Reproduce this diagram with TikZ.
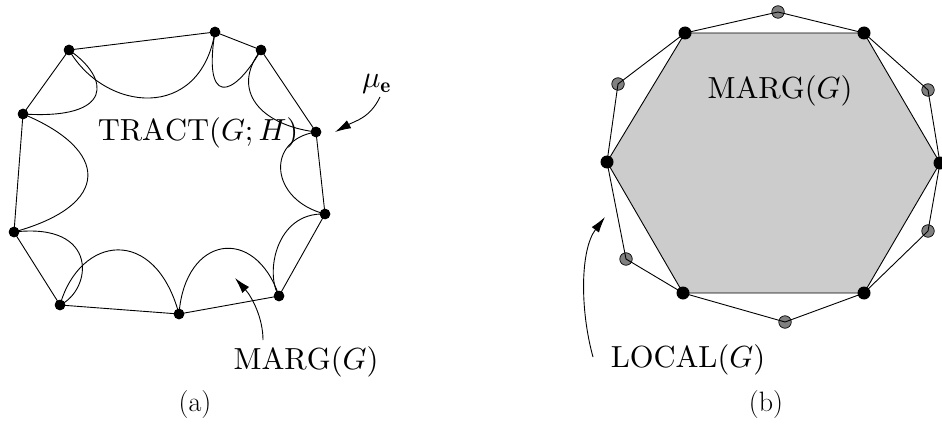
\documentclass[tikz,border=0pt]{standalone}
\usepackage{graphicx}
\usepackage{fontspec}
\usetikzlibrary{arrows.meta}
\definecolor{hexfill}{RGB}{204,204,204}
\definecolor{dotgrey}{RGB}{128,128,128}
\newcommand{\bigmath}[1]{\scalebox{3.05}{$#1$}}
\tikzset{
  edge/.style={line width=0.9pt, black},
  bdot/.style={circle, fill=black, inner sep=0pt, minimum size=10.5pt},
  bigdot/.style={circle, fill=black, inner sep=0pt, minimum size=13pt},
  gdot/.style={circle, fill=dotgrey, draw=black, line width=0.7pt, inner sep=0pt, minimum size=12.5pt},
  lbl/.style={inner sep=0pt},
  captxt/.style={inner sep=0pt, font=\fontsize{28}{34}\selectfont},
  pointer/.style={line width=0.9pt, -{Latex[length=16pt,width=9pt]}}
}
\begin{document}
\begin{tikzpicture}[x=1pt,y=-1pt]
\useasboundingbox (0,0) rectangle (942,425);
% ---------- (a) ----------
\node[bdot] (p1) at (69,50) {};
\node[bdot] (p2) at (215,32) {};
\node[bdot] (p3) at (261,50) {};
\node[bdot] (p4) at (316,132) {};
\node[bdot] (p5) at (325,214) {};
\node[bdot] (p6) at (279,296) {};
\node[bdot] (p7) at (179,314) {};
\node[bdot] (p8) at (60,305) {};
\node[bdot] (p9) at (14,232) {};
\node[bdot] (p10) at (23,114) {};
\draw[edge] (p1.center) -- (p2.center) -- (p3.center) -- (p4.center) -- (p5.center) -- (p6.center) -- (p7.center) -- (p8.center) -- (p9.center) -- (p10.center) -- cycle;
\draw[edge] (p1.center) .. controls (105,112) and (200,122) .. (p2.center);
\draw[edge] (p2.center) .. controls (203,105) and (232,100) .. (p3.center);
\draw[edge] (p3.center) .. controls (230,90) and (260,125) .. (p4.center);
\draw[edge] (p4.center) .. controls (265,140) and (270,200) .. (p5.center);
\draw[edge] (p5.center) .. controls (275,212) and (265,275) .. (p6.center);
\draw[edge] (p6.center) .. controls (255,225) and (185,235) .. (p7.center);
\draw[edge] (p7.center) .. controls (155,225) and (80,235) .. (p8.center);
\draw[edge] (p9.center) .. controls (100,222) and (92,290) .. (p8.center);
\draw[edge] (p9.center) .. controls (112,205) and (110,150) .. (p10.center);
\draw[edge] (p10.center) .. controls (115,120) and (110,78) .. (p1.center);
\foreach \p in {p1,p2,p3,p4,p5,p6,p7,p8,p9,p10} \node[bdot] at (\p) {};
\node[lbl] (tract) at (198,133) {\bigmath{\mathrm{TRACT}(G;H)}};
\node[lbl] (mu) at (377,84) {\bigmath{\mu_{\mathbf{e}}}};
\coordinate (mutail) at (380,97);
\coordinate (mutip) at (335,132);
\draw[pointer] (mutail) .. controls (370,118) and (355,121) .. (mutip);
\node[lbl] (margA) at (306,362) {\bigmath{\mathrm{MARG}(G)}};
\coordinate (mAtail) at (263,340);
\coordinate (mAtip) at (235,278);
\draw[pointer] (mAtail) .. controls (263,318) and (252,297) .. (mAtip);
\node[captxt] (capa) at (195,405) {(a)};
% ---------- (b) ----------
\coordinate (h1) at (685,33);
\coordinate (h2) at (864,33);
\coordinate (h3) at (940,163);
\coordinate (h4) at (864,293);
\coordinate (h5) at (683,293);
\coordinate (h6) at (607,162);
\fill[hexfill] (h1) -- (h2) -- (h3) -- (h4) -- (h5) -- (h6) -- cycle;
\node[gdot] (g1) at (778,12) {};
\node[gdot] (g2) at (928,90) {};
\node[gdot] (g3) at (928,231) {};
\node[gdot] (g4) at (785,322) {};
\node[gdot] (g5) at (626,259) {};
\node[gdot] (g6) at (618,84) {};
\draw[edge] (h1) -- (h2) -- (h3) -- (h4) -- (h5) -- (h6) -- cycle;
\draw[edge] (h1) -- (g1.center) -- (h2) -- (g2.center) -- (h3) -- (g3.center) -- (h4) -- (g4.center) -- (h5) -- (g5.center) -- (h6) -- (g6.center) -- cycle;
\foreach \h/\n in {h1/b1,h2/b2,h3/b3,h4/b4,h5/b5,h6/b6} \node[bigdot] (\n) at (\h) {};
\node[lbl] (margB) at (780,91) {\bigmath{\mathrm{MARG}(G)}};
\node[lbl] (local) at (688,360) {\bigmath{\mathrm{LOCAL}(G)}};
\coordinate (ltail) at (593,357);
\coordinate (ltip) at (605,217);
\draw[pointer] (ltail) .. controls (580,310) and (580,250) .. (ltip);
\node[captxt] (capb) at (766,405) {(b)};
\end{tikzpicture}
\end{document}
